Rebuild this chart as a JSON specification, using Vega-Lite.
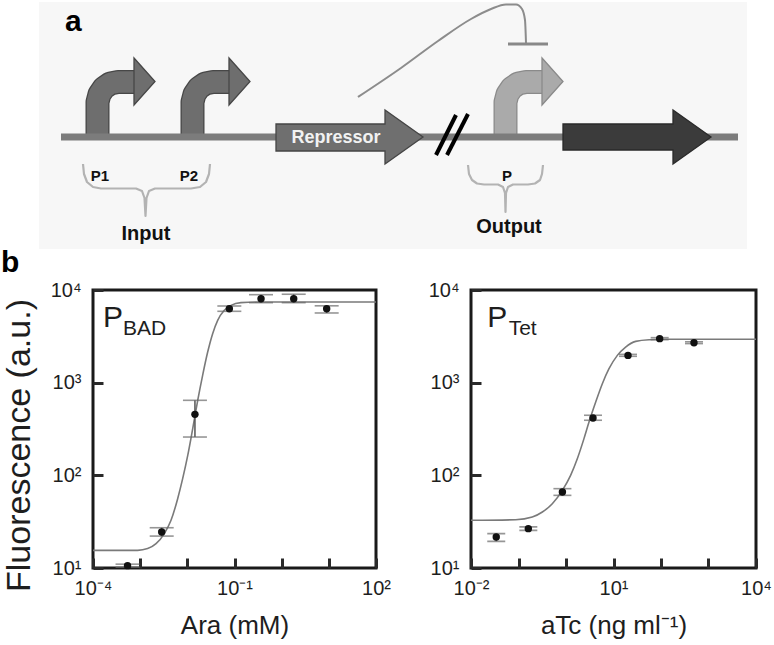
{
  "$schema": "https://vega.github.io/schema/vega-lite/v6.json",
  "padding": 0,
  "background": "white",
  "spacing": 0,
  "align": "none",
  "config": {
    "view": {"stroke": null},
    "font": "Liberation Sans",
    "axis": {"grid": false, "domain": false, "labelFont": "Liberation Sans", "labelFontSize": 20, "labelColor": "#1e1e1e", "titleFont": "Liberation Sans", "titleFontWeight": "normal", "titleColor": "#1e1e1e", "tickColor": "#2a2a2a", "tickWidth": 3, "tickSize": -10, "labelOverlap": false, "labelFlush": false, "labelBound": false},
    "axisX": {"labelPadding": 20, "titleFontSize": 26, "titlePadding": 14},
    "axisY": {"labelPadding": 22, "titleFontSize": 34, "titlePadding": 14}
  },
  "datasets": {
    "bg": [{"x": 38, "x2": 746, "y": 0, "y2": 247}],
    "stems": [
      {"p": "P1", "i": 1, "x": 96.5, "y": 134}, {"p": "P1", "i": 2, "x": 96.5, "y": 100}, {"p": "P1", "i": 3, "x": 98.5, "y": 92.3}, {"p": "P1", "i": 4, "x": 102.9, "y": 85.9}, {"p": "P1", "i": 5, "x": 109.3, "y": 81.5}, {"p": "P1", "i": 6, "x": 117, "y": 80}, {"p": "P1", "i": 7, "x": 134, "y": 80},
      {"p": "P2", "i": 1, "x": 191.5, "y": 134}, {"p": "P2", "i": 2, "x": 191.5, "y": 100}, {"p": "P2", "i": 3, "x": 193.5, "y": 92.3}, {"p": "P2", "i": 4, "x": 197.9, "y": 85.9}, {"p": "P2", "i": 5, "x": 204.3, "y": 81.5}, {"p": "P2", "i": 6, "x": 212, "y": 80}, {"p": "P2", "i": 7, "x": 229, "y": 80},
      {"p": "P", "i": 1, "x": 504.5, "y": 134}, {"p": "P", "i": 2, "x": 504.5, "y": 100}, {"p": "P", "i": 3, "x": 506.5, "y": 92.3}, {"p": "P", "i": 4, "x": 510.9, "y": 85.9}, {"p": "P", "i": 5, "x": 517.3, "y": 81.5}, {"p": "P", "i": 6, "x": 525, "y": 80}, {"p": "P", "i": 7, "x": 542, "y": 80}
    ],
    "heads": [
      {"p": "P1", "x": 133, "y": 56, "y2": 103}, {"p": "P1", "x": 154, "y": 79.5, "y2": 79.5},
      {"p": "P2", "x": 228, "y": 56, "y2": 103}, {"p": "P2", "x": 249, "y": 79.5, "y2": 79.5},
      {"p": "P", "x": 541, "y": 56, "y2": 103}, {"p": "P", "x": 562, "y": 79.5, "y2": 79.5}
    ],
    "dna": [{"x": 60, "x2": 737, "y": 131.5, "y2": 138.5}],
    "blocks": [
      {"g": "R", "x": 275, "y": 122, "y2": 149}, {"g": "R", "x": 384, "y": 122, "y2": 149}, {"g": "R", "x": 384.01, "y": 108, "y2": 162}, {"g": "R", "x": 422, "y": 135, "y2": 135},
      {"g": "G", "x": 562, "y": 122, "y2": 148}, {"g": "G", "x": 672, "y": 122, "y2": 148}, {"g": "G", "x": 672.01, "y": 108, "y2": 162}, {"g": "G", "x": 710, "y": 135, "y2": 135}
    ],
    "breaks": [{"x": 435, "y": 153, "x2": 455, "y2": 113}, {"x": 446, "y": 153, "x2": 467, "y2": 112}],
    "repress": [
      {"i": 1, "x": 357, "y": 95}, {"i": 2, "x": 400, "y": 66}, {"i": 3, "x": 437, "y": 39}, {"i": 4, "x": 470, "y": 17}, {"i": 5, "x": 490, "y": 7}, {"i": 6, "x": 505, "y": 2.5}, {"i": 7, "x": 515, "y": 2.5}, {"i": 8, "x": 521, "y": 7}, {"i": 9, "x": 524, "y": 18}, {"i": 10, "x": 525, "y": 41}
    ],
    "tbar": [{"x": 507, "x2": 547, "y": 42, "y2": 42}],
    "braces": [
      {"b": "in", "i": 1, "x": 82, "y": 162}, {"b": "in", "i": 2, "x": 83, "y": 172}, {"b": "in", "i": 3, "x": 86, "y": 180}, {"b": "in", "i": 4, "x": 92, "y": 185}, {"b": "in", "i": 5, "x": 100, "y": 186.5}, {"b": "in", "i": 6, "x": 135, "y": 186.5}, {"b": "in", "i": 7, "x": 141, "y": 189}, {"b": "in", "i": 8, "x": 143.5, "y": 196}, {"b": "in", "i": 9, "x": 144.5, "y": 214}, {"b": "in", "i": 10, "x": 145.5, "y": 196}, {"b": "in", "i": 11, "x": 148, "y": 189}, {"b": "in", "i": 12, "x": 154, "y": 186.5}, {"b": "in", "i": 13, "x": 190, "y": 186.5}, {"b": "in", "i": 14, "x": 199, "y": 185}, {"b": "in", "i": 15, "x": 205, "y": 180}, {"b": "in", "i": 16, "x": 208, "y": 172}, {"b": "in", "i": 17, "x": 209, "y": 162},
      {"b": "out", "i": 1, "x": 467, "y": 163}, {"b": "out", "i": 2, "x": 468, "y": 172}, {"b": "out", "i": 3, "x": 471, "y": 178}, {"b": "out", "i": 4, "x": 476, "y": 181.5}, {"b": "out", "i": 5, "x": 483, "y": 182.5}, {"b": "out", "i": 6, "x": 497, "y": 182.5}, {"b": "out", "i": 7, "x": 502, "y": 185}, {"b": "out", "i": 8, "x": 504, "y": 191}, {"b": "out", "i": 9, "x": 504.5, "y": 210}, {"b": "out", "i": 10, "x": 505, "y": 191}, {"b": "out", "i": 11, "x": 507, "y": 185}, {"b": "out", "i": 12, "x": 512, "y": 182.5}, {"b": "out", "i": 13, "x": 527, "y": 182.5}, {"b": "out", "i": 14, "x": 534, "y": 181.5}, {"b": "out", "i": 15, "x": 539, "y": 178}, {"b": "out", "i": 16, "x": 541, "y": 172}, {"b": "out", "i": 17, "x": 542, "y": 163}
    ],
    "slab": [
      {"k": "small", "t": "P1", "x": 99, "y": 179}, {"k": "small", "t": "P2", "x": 188, "y": 179}, {"k": "small", "t": "P", "x": 506, "y": 179},
      {"k": "mid", "t": "Input", "x": 145, "y": 238}, {"k": "mid", "t": "Output", "x": 508, "y": 231},
      {"k": "rep", "t": "Repressor", "x": 335, "y": 141}
    ],
    "panelLetters": [{"t": "a", "x": 64, "y": 29}, {"t": "b", "x": 0, "y": 270}],
    "araFit": [{"x": 0.0001, "y": 15.5}, {"x": 0.000885, "y": 15.5}, {"x": 0.00144, "y": 16.2}, {"x": 0.00217, "y": 18.3}, {"x": 0.00325, "y": 23.5}, {"x": 0.00451, "y": 32.7}, {"x": 0.00624, "y": 56}, {"x": 0.00796, "y": 92}, {"x": 0.0102, "y": 164}, {"x": 0.013, "y": 319}, {"x": 0.0166, "y": 645}, {"x": 0.0211, "y": 1200}, {"x": 0.027, "y": 2140}, {"x": 0.0344, "y": 3380}, {"x": 0.044, "y": 4710}, {"x": 0.0608, "y": 6040}, {"x": 0.0843, "y": 6830}, {"x": 0.137, "y": 7300}, {"x": 0.365, "y": 7420}, {"x": 100, "y": 7420}],
    "ara": [{"x": 0.00054, "y": 10.6, "lo": 10.2, "hi": 11.0}, {"x": 0.00286, "y": 24.5, "lo": 22.1, "hi": 27.2}, {"x": 0.0145, "y": 455, "lo": 259, "hi": 645}, {"x": 0.0777, "y": 6280, "lo": 5890, "hi": 6720}, {"x": 0.365, "y": 8050, "lo": 7300, "hi": 8900}, {"x": 1.8, "y": 8050, "lo": 7300, "hi": 9000}, {"x": 9.0, "y": 6280, "lo": 5650, "hi": 6750}],
    "tetFit": [{"x": 0.01, "y": 32.7}, {"x": 0.0871, "y": 33.2}, {"x": 0.195, "y": 35.5}, {"x": 0.318, "y": 40.2}, {"x": 0.515, "y": 49.4}, {"x": 0.838, "y": 68.9}, {"x": 1.25, "y": 100}, {"x": 1.73, "y": 151}, {"x": 2.39, "y": 249}, {"x": 3.05, "y": 376}, {"x": 4.22, "y": 618}, {"x": 5.82, "y": 975}, {"x": 8.04, "y": 1415}, {"x": 12.05, "y": 1970}, {"x": 18.0, "y": 2425}, {"x": 29.3, "y": 2790}, {"x": 55.9, "y": 2910}, {"x": 125, "y": 2940}, {"x": 10000, "y": 2940}],
    "tet": [{"x": 0.034, "y": 21.6, "lo": 19.4, "hi": 23.5}, {"x": 0.161, "y": 26.6, "lo": 25.5, "hi": 27.8}, {"x": 0.84, "y": 66, "lo": 60.8, "hi": 71.8}, {"x": 3.7, "y": 416, "lo": 393, "hi": 445}, {"x": 20.2, "y": 1970, "lo": 1925, "hi": 2020}, {"x": 93.8, "y": 2985, "lo": 2910, "hi": 3060}, {"x": 495, "y": 2700, "lo": 2640, "hi": 2760}],
    "plab": [{"panel": "ara", "k": "big", "t": "P", "x": 0.000163, "y": 3980}, {"panel": "ara", "k": "sub", "t": "BAD", "x": 0.000433, "y": 3266}, {"panel": "tet", "k": "big", "t": "P", "x": 0.022, "y": 3980}, {"panel": "tet", "k": "sub", "t": "Tet", "x": 0.062, "y": 3266}]
  },
  "vconcat": [
    {
      "width": 682,
      "height": 270,
      "encoding": {
        "x": {"field": "x", "type": "quantitative", "scale": {"domain": [92, 774], "nice": false, "zero": false}, "axis": null},
        "y": {"field": "y", "type": "quantitative", "scale": {"domain": [0, 270], "nice": false, "zero": false, "reverse": true}, "axis": null}
      },
      "layer": [
        {"data": {"name": "bg"}, "mark": {"type": "rect", "color": "#f7f7f7"}, "encoding": {"x2": {"field": "x2"}, "y2": {"field": "y2"}}},
        {"data": {"name": "stems"}, "transform": [{"filter": "datum.p != 'P'"}], "mark": {"type": "line", "color": "#474747", "strokeWidth": 24, "strokeJoin": "round", "strokeCap": "butt"}, "encoding": {"detail": {"field": "p"}, "order": {"field": "i", "type": "quantitative"}}},
        {"data": {"name": "stems"}, "transform": [{"filter": "datum.p == 'P'"}], "mark": {"type": "line", "color": "#8a8a8a", "strokeWidth": 24, "strokeJoin": "round", "strokeCap": "butt"}, "encoding": {"detail": {"field": "p"}, "order": {"field": "i", "type": "quantitative"}}},
        {"data": {"name": "stems"}, "transform": [{"filter": "datum.p != 'P'"}], "mark": {"type": "line", "color": "#6e6e6e", "strokeWidth": 21.5, "strokeJoin": "round", "strokeCap": "butt"}, "encoding": {"detail": {"field": "p"}, "order": {"field": "i", "type": "quantitative"}}},
        {"data": {"name": "stems"}, "transform": [{"filter": "datum.p == 'P'"}], "mark": {"type": "line", "color": "#aaaaaa", "strokeWidth": 21.5, "strokeJoin": "round", "strokeCap": "butt"}, "encoding": {"detail": {"field": "p"}, "order": {"field": "i", "type": "quantitative"}}},
        {"data": {"name": "heads"}, "transform": [{"filter": "datum.p != 'P'"}], "mark": {"type": "area", "color": "#6e6e6e", "stroke": "#474747", "strokeWidth": 1.3}, "encoding": {"y": {"field": "y", "type": "quantitative", "stack": null}, "y2": {"field": "y2"}, "detail": {"field": "p"}}},
        {"data": {"name": "heads"}, "transform": [{"filter": "datum.p == 'P'"}], "mark": {"type": "area", "color": "#aaaaaa", "stroke": "#8a8a8a", "strokeWidth": 1.3}, "encoding": {"y": {"field": "y", "type": "quantitative", "stack": null}, "y2": {"field": "y2"}, "detail": {"field": "p"}}},
        {"data": {"name": "dna"}, "mark": {"type": "rect", "color": "#7c7c7c"}, "encoding": {"x2": {"field": "x2"}, "y2": {"field": "y2"}}},
        {"data": {"name": "blocks"}, "transform": [{"filter": "datum.g == 'R'"}], "mark": {"type": "area", "color": "#6f6f6f", "stroke": "#454545", "strokeWidth": 1.3}, "encoding": {"y": {"field": "y", "type": "quantitative", "stack": null}, "y2": {"field": "y2"}}},
        {"data": {"name": "blocks"}, "transform": [{"filter": "datum.g == 'G'"}], "mark": {"type": "area", "color": "#3b3b3b", "stroke": "#2a2a2a", "strokeWidth": 1.3}, "encoding": {"y": {"field": "y", "type": "quantitative", "stack": null}, "y2": {"field": "y2"}}},
        {"data": {"name": "breaks"}, "mark": {"type": "rule", "color": "#000000", "strokeWidth": 4}, "encoding": {"x2": {"field": "x2"}, "y2": {"field": "y2"}}},
        {"data": {"name": "repress"}, "mark": {"type": "line", "color": "#8c8c8c", "strokeWidth": 2, "interpolate": "monotone"}, "encoding": {"order": {"field": "i", "type": "quantitative"}}},
        {"data": {"name": "tbar"}, "mark": {"type": "rule", "color": "#888888", "strokeWidth": 3}, "encoding": {"x2": {"field": "x2"}, "y2": {"field": "y2"}}},
        {"data": {"name": "braces"}, "mark": {"type": "line", "color": "#b3b3b3", "strokeWidth": 2.2, "strokeJoin": "round"}, "encoding": {"detail": {"field": "b"}, "order": {"field": "i", "type": "quantitative"}}},
        {"data": {"name": "slab"}, "transform": [{"filter": "datum.k == 'small'"}], "mark": {"type": "text", "font": "Liberation Sans Narrow, Liberation Sans", "fontWeight": "bold", "fontSize": 15, "color": "#111111", "align": "center", "baseline": "alphabetic"}, "encoding": {"text": {"field": "t"}}},
        {"data": {"name": "slab"}, "transform": [{"filter": "datum.k == 'mid'"}], "mark": {"type": "text", "font": "Liberation Sans Narrow, Liberation Sans", "fontWeight": "bold", "fontSize": 20, "color": "#111111", "align": "center", "baseline": "alphabetic"}, "encoding": {"text": {"field": "t"}}},
        {"data": {"name": "slab"}, "transform": [{"filter": "datum.k == 'rep'"}], "mark": {"type": "text", "font": "Liberation Sans Narrow, Liberation Sans", "fontWeight": "bold", "fontSize": 18, "color": "#f2f2f2", "align": "center", "baseline": "alphabetic"}, "encoding": {"text": {"field": "t"}}},
        {"data": {"name": "panelLetters"}, "mark": {"type": "text", "font": "Liberation Sans", "fontWeight": "bold", "fontSize": 30, "color": "#000000", "align": "left", "baseline": "alphabetic"}, "encoding": {"text": {"field": "t"}}}
      ]
    },
    {
      "spacing": 34,
      "hconcat": [
        {
          "width": 283,
          "height": 278,
          "view": {"stroke": "#1a1a1a", "strokeWidth": 3},
          "layer": [
            {"data": {"name": "araFit"}, "mark": {"type": "line", "color": "#7a7a7a", "strokeWidth": 1.6, "interpolate": "monotone"},
             "encoding": {
               "x": {"field": "x", "type": "quantitative", "title": "Ara (mM)", "scale": {"type": "log", "domain": [0.0001, 100], "nice": false}, "axis": {"values": [0.0001, 0.001, 0.01, 0.1, 1, 10, 100], "labelExpr": "round(log(datum.value)/LN10) == -4 ? '10⁻⁴' : round(log(datum.value)/LN10) == -1 ? '10⁻¹' : round(log(datum.value)/LN10) == 2 ? '10²' : ''"}},
               "y": {"field": "y", "type": "quantitative", "title": "Fluorescence (a.u.)", "scale": {"type": "log", "domain": [10, 10000], "nice": false}, "axis": {"titleY": 155, "values": [10, 100, 1000, 10000], "labelExpr": "round(log(datum.value)/LN10) == 1 ? '10¹' : round(log(datum.value)/LN10) == 2 ? '10²' : round(log(datum.value)/LN10) == 3 ? '10³' : '10⁴'"}}
             }},
            {"data": {"name": "ara"}, "mark": {"type": "rule", "color": "#555555", "strokeWidth": 1.5},
             "encoding": {"x": {"field": "x", "type": "quantitative", "title": "Ara (mM)"}, "y": {"field": "lo", "type": "quantitative", "title": "Fluorescence (a.u.)"}, "y2": {"field": "hi"}}},
            {"data": {"name": "ara"}, "mark": {"type": "tick", "orient": "horizontal", "size": 24, "thickness": 1.6, "color": "#6a6a6a"},
             "encoding": {"x": {"field": "x", "type": "quantitative", "title": "Ara (mM)"}, "y": {"field": "lo", "type": "quantitative", "title": "Fluorescence (a.u.)"}}},
            {"data": {"name": "ara"}, "mark": {"type": "tick", "orient": "horizontal", "size": 24, "thickness": 1.6, "color": "#6a6a6a"},
             "encoding": {"x": {"field": "x", "type": "quantitative", "title": "Ara (mM)"}, "y": {"field": "hi", "type": "quantitative", "title": "Fluorescence (a.u.)"}}},
            {"data": {"name": "ara"}, "mark": {"type": "point", "filled": true, "shape": "circle", "size": 55, "color": "#111111", "opacity": 1},
             "encoding": {"x": {"field": "x", "type": "quantitative", "title": "Ara (mM)"}, "y": {"field": "y", "type": "quantitative", "title": "Fluorescence (a.u.)"}}},
            {"data": {"name": "plab"}, "transform": [{"filter": "datum.panel == 'ara' && datum.k == 'big'"}], "mark": {"type": "text", "fontSize": 30, "color": "#1e1e1e", "align": "left", "baseline": "alphabetic"},
             "encoding": {"x": {"field": "x", "type": "quantitative", "title": "Ara (mM)"}, "y": {"field": "y", "type": "quantitative", "title": "Fluorescence (a.u.)"}, "text": {"field": "t"}}},
            {"data": {"name": "plab"}, "transform": [{"filter": "datum.panel == 'ara' && datum.k == 'sub'"}], "mark": {"type": "text", "fontSize": 21, "color": "#1e1e1e", "align": "left", "baseline": "alphabetic"},
             "encoding": {"x": {"field": "x", "type": "quantitative", "title": "Ara (mM)"}, "y": {"field": "y", "type": "quantitative", "title": "Fluorescence (a.u.)"}, "text": {"field": "t"}}}
          ]
        },
        {
          "width": 285,
          "height": 278,
          "view": {"stroke": "#1a1a1a", "strokeWidth": 3},
          "layer": [
            {"data": {"name": "tetFit"}, "mark": {"type": "line", "color": "#7a7a7a", "strokeWidth": 1.6, "interpolate": "monotone"},
             "encoding": {
               "x": {"field": "x", "type": "quantitative", "title": "aTc (ng ml⁻¹)", "scale": {"type": "log", "domain": [0.01, 10000], "nice": false}, "axis": {"values": [0.01, 0.1, 1, 10, 100, 1000, 10000], "labelExpr": "round(log(datum.value)/LN10) == -2 ? '10⁻²' : round(log(datum.value)/LN10) == 1 ? '10¹' : round(log(datum.value)/LN10) == 4 ? '10⁴' : ''"}},
               "y": {"field": "y", "type": "quantitative", "title": null, "scale": {"type": "log", "domain": [10, 10000], "nice": false}, "axis": {"values": [10, 100, 1000, 10000], "labelExpr": "round(log(datum.value)/LN10) == 1 ? '10¹' : round(log(datum.value)/LN10) == 2 ? '10²' : round(log(datum.value)/LN10) == 3 ? '10³' : '10⁴'"}}
             }},
            {"data": {"name": "tet"}, "mark": {"type": "rule", "color": "#555555", "strokeWidth": 1.5},
             "encoding": {"x": {"field": "x", "type": "quantitative", "title": "aTc (ng ml⁻¹)"}, "y": {"field": "lo", "type": "quantitative", "title": null}, "y2": {"field": "hi"}}},
            {"data": {"name": "tet"}, "mark": {"type": "tick", "orient": "horizontal", "size": 18, "thickness": 1.6, "color": "#6a6a6a"},
             "encoding": {"x": {"field": "x", "type": "quantitative", "title": "aTc (ng ml⁻¹)"}, "y": {"field": "lo", "type": "quantitative", "title": null}}},
            {"data": {"name": "tet"}, "mark": {"type": "tick", "orient": "horizontal", "size": 18, "thickness": 1.6, "color": "#6a6a6a"},
             "encoding": {"x": {"field": "x", "type": "quantitative", "title": "aTc (ng ml⁻¹)"}, "y": {"field": "hi", "type": "quantitative", "title": null}}},
            {"data": {"name": "tet"}, "mark": {"type": "point", "filled": true, "shape": "circle", "size": 55, "color": "#111111", "opacity": 1},
             "encoding": {"x": {"field": "x", "type": "quantitative", "title": "aTc (ng ml⁻¹)"}, "y": {"field": "y", "type": "quantitative", "title": null}}},
            {"data": {"name": "plab"}, "transform": [{"filter": "datum.panel == 'tet' && datum.k == 'big'"}], "mark": {"type": "text", "fontSize": 30, "color": "#1e1e1e", "align": "left", "baseline": "alphabetic"},
             "encoding": {"x": {"field": "x", "type": "quantitative", "title": "aTc (ng ml⁻¹)"}, "y": {"field": "y", "type": "quantitative", "title": null}, "text": {"field": "t"}}},
            {"data": {"name": "plab"}, "transform": [{"filter": "datum.panel == 'tet' && datum.k == 'sub'"}], "mark": {"type": "text", "fontSize": 21, "color": "#1e1e1e", "align": "left", "baseline": "alphabetic"},
             "encoding": {"x": {"field": "x", "type": "quantitative", "title": "aTc (ng ml⁻¹)"}, "y": {"field": "y", "type": "quantitative", "title": null}, "text": {"field": "t"}}}
          ]
        }
      ]
    }
  ]
}
